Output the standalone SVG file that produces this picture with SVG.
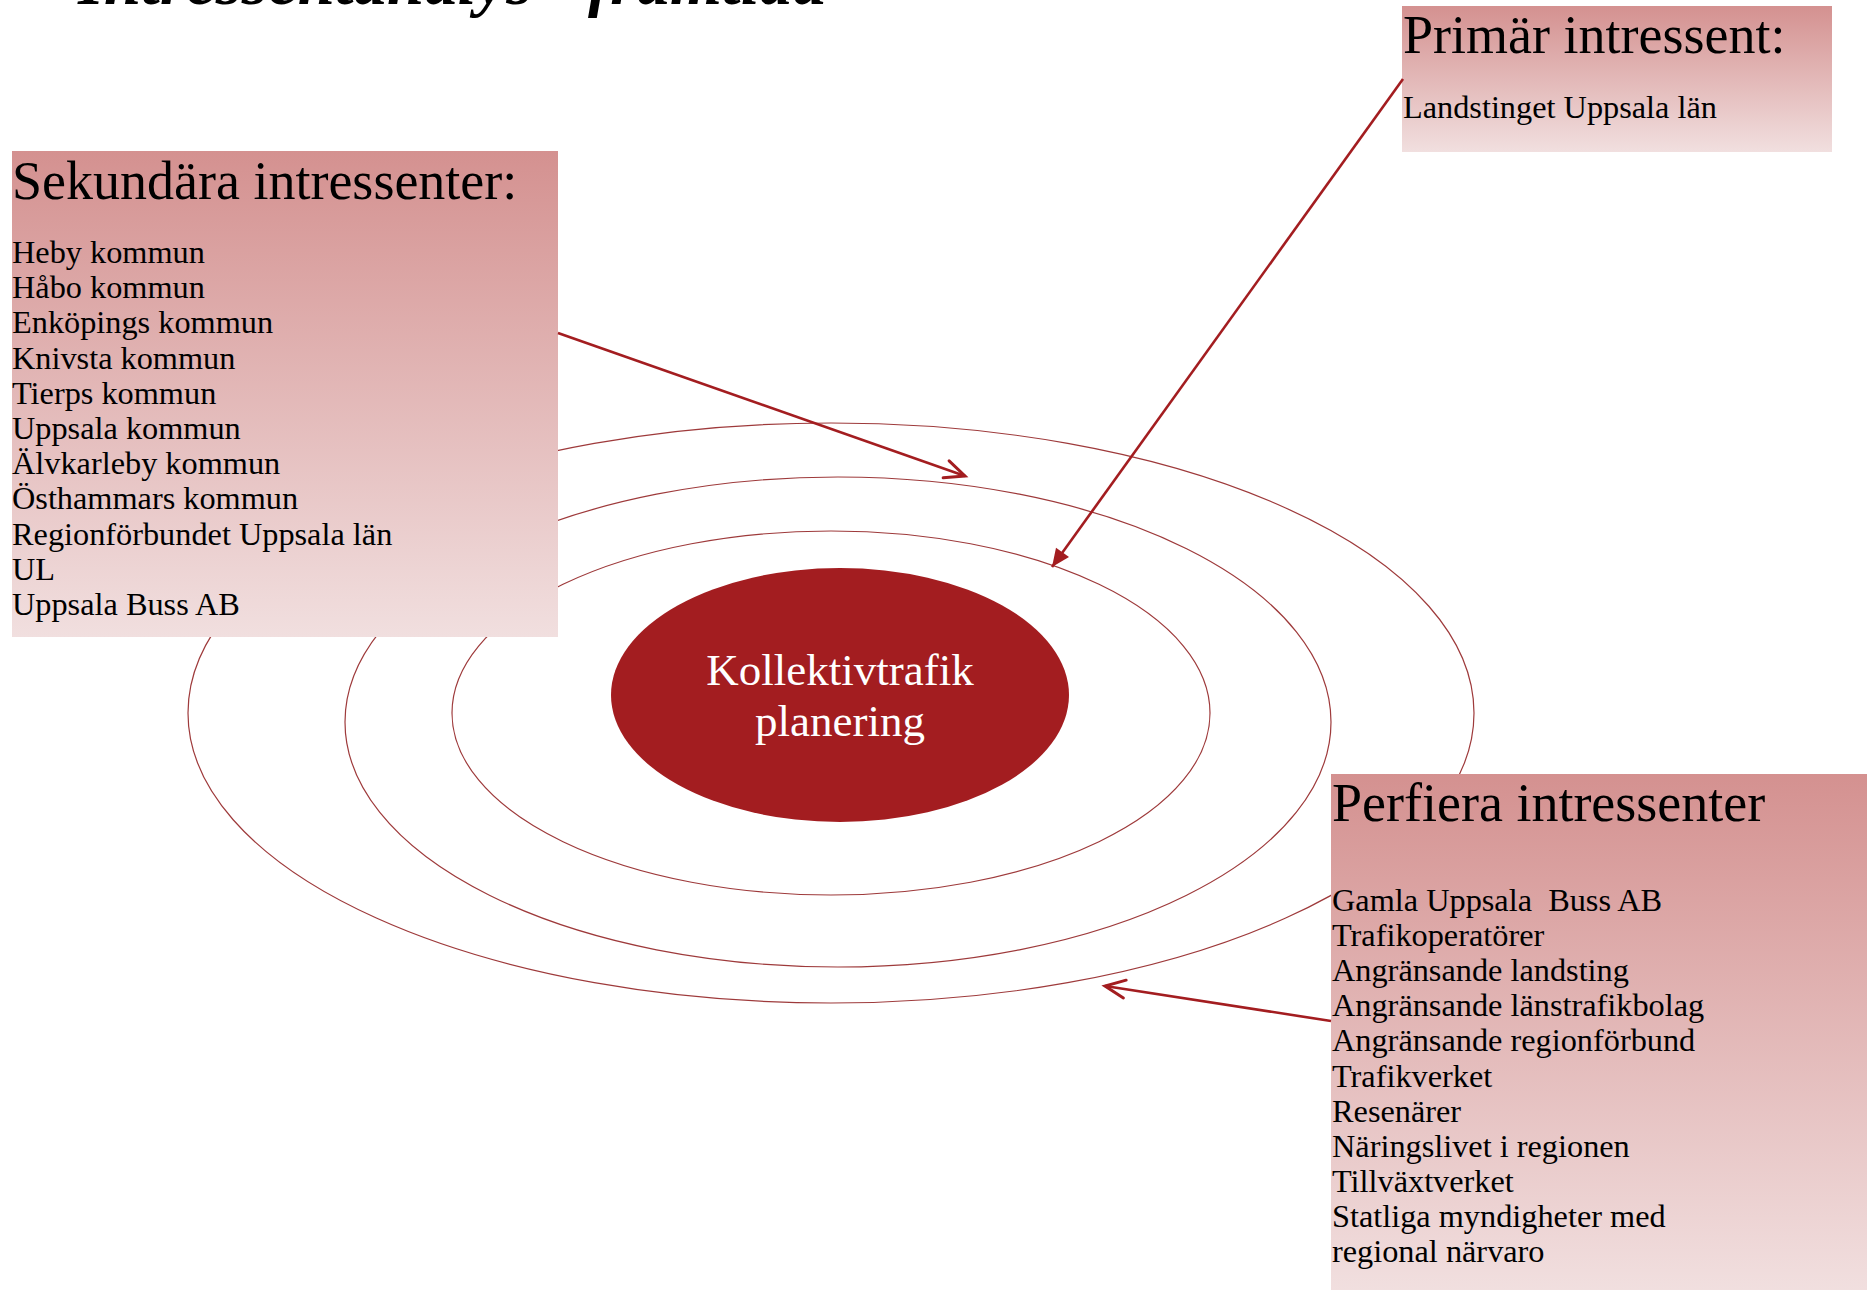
<svg xmlns="http://www.w3.org/2000/svg" width="1867" height="1290" viewBox="0 0 1867 1290">
  <defs>
    <linearGradient id="boxGrad" x1="0" y1="0" x2="0" y2="1">
      <stop offset="0" stop-color="#d49190"/>
      <stop offset="1" stop-color="#f1dfdf"/>
    </linearGradient>
    <marker id="openArrow" markerUnits="userSpaceOnUse" markerWidth="30" markerHeight="30" refX="0" refY="0" viewBox="-24 -15 30 30" orient="auto" overflow="visible">
      <path d="M-20,-9 L0,0 L-20,9" fill="none" stroke="#a31d20" stroke-width="3" stroke-linecap="round" stroke-linejoin="miter"/>
    </marker>
    <marker id="filledArrow" markerUnits="userSpaceOnUse" markerWidth="30" markerHeight="30" refX="0" refY="0" viewBox="-20 -15 30 30" orient="auto" overflow="visible">
      <path d="M0,0 L-18,-8 L-18,8 Z" fill="#a31d20"/>
    </marker>
    <style>
      .ring { fill: none; stroke: #9e3a3b; stroke-width: 1.2; }
      .box { fill: url(#boxGrad); }
      .head { font-family: "Liberation Serif", "Times New Roman", serif; font-size: 54px; fill: #000; }
      .body { font-family: "Liberation Serif", "Times New Roman", serif; font-size: 32.3px; fill: #000; }
      .core { font-family: "Liberation Serif", "Times New Roman", serif; font-size: 45px; fill: #fff; text-anchor: middle; }
      .title { font-family: "Liberation Serif", "Times New Roman", serif; font-size: 67px; font-weight: bold; font-style: italic; fill: #000; }
      .conn { fill: none; stroke: #a31d20; stroke-width: 2.6; }
    </style>
  </defs>

  <rect x="0" y="0" width="1867" height="1290" fill="#ffffff"/>

  <g id="title">
    <text class="title" x="78" y="4">Intressentanalys - framtida</text>
  </g>

  <g id="rings">
    <ellipse class="ring" cx="831" cy="713" rx="643" ry="290"/>
    <ellipse class="ring" cx="838" cy="722" rx="493" ry="245"/>
    <ellipse class="ring" cx="831" cy="713" rx="379" ry="182"/>
  </g>

  <g id="core">
    <ellipse cx="840" cy="695" rx="229" ry="127" fill="#a31d20"/>
    <text class="core" x="840" y="685">Kollektivtrafik</text>
    <text class="core" x="840" y="736">planering</text>
  </g>

  <g id="primar">
    <rect class="box" x="1402" y="6" width="430" height="146"/>
    <text class="head" x="1403" y="53">Primär intressent:</text>
    <text class="body" x="1403" y="118">Landstinget Uppsala län</text>
  </g>

  <g id="sekundara">
    <rect class="box" x="12" y="151" width="546" height="486"/>
    <text class="head" x="12" y="199">Sekundära intressenter:</text>
    <text class="body" x="12" y="263">Heby kommun</text>
    <text class="body" x="12" y="298.2">Håbo kommun</text>
    <text class="body" x="12" y="333.4">Enköpings kommun</text>
    <text class="body" x="12" y="368.6">Knivsta kommun</text>
    <text class="body" x="12" y="403.8">Tierps kommun</text>
    <text class="body" x="12" y="439">Uppsala kommun</text>
    <text class="body" x="12" y="474.2">Älvkarleby kommun</text>
    <text class="body" x="12" y="509.4">Östhammars kommun</text>
    <text class="body" x="12" y="544.6">Regionförbundet Uppsala län</text>
    <text class="body" x="12" y="579.8">UL</text>
    <text class="body" x="12" y="615">Uppsala Buss AB</text>
  </g>

  <g id="perifiera">
    <rect class="box" x="1331" y="774" width="536" height="516"/>
    <text class="head" x="1332" y="821">Perfiera intressenter</text>
    <text class="body" x="1332" y="911" xml:space="preserve">Gamla Uppsala  Buss AB</text>
    <text class="body" x="1332" y="946.1">Trafikoperatörer</text>
    <text class="body" x="1332" y="981.2">Angränsande landsting</text>
    <text class="body" x="1332" y="1016.3">Angränsande länstrafikbolag</text>
    <text class="body" x="1332" y="1051.4">Angränsande regionförbund</text>
    <text class="body" x="1332" y="1086.5">Trafikverket</text>
    <text class="body" x="1332" y="1121.6">Resenärer</text>
    <text class="body" x="1332" y="1156.7">Näringslivet i regionen</text>
    <text class="body" x="1332" y="1191.8">Tillväxtverket</text>
    <text class="body" x="1332" y="1226.9">Statliga myndigheter med</text>
    <text class="body" x="1332" y="1262">regional närvaro</text>
  </g>

  <g id="connectors">
    <line class="conn" x1="558" y1="333" x2="965" y2="476" marker-end="url(#openArrow)"/>
    <line class="conn" x1="1403" y1="79" x2="1052" y2="567" marker-end="url(#filledArrow)"/>
    <line class="conn" x1="1331" y1="1021" x2="1105" y2="986" marker-end="url(#openArrow)"/>
  </g>
</svg>
